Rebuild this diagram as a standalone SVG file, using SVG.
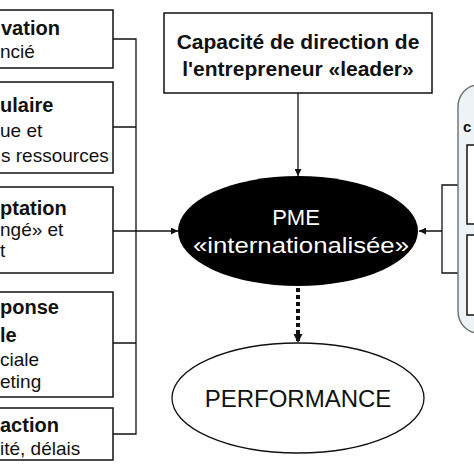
<svg xmlns="http://www.w3.org/2000/svg" width="474" height="474" viewBox="0 0 474 474">
<style>
.box{fill:#fff;stroke:#111;stroke-width:1.5}
.t{font-family:"Liberation Sans",Arial,sans-serif;font-size:19px;fill:#111}
.b{font-weight:bold;font-size:20px}
.c{stroke:#111;stroke-width:1.3;fill:none}
.top{font-size:21px;text-anchor:middle}
.w{font-size:22px;fill:#fff;text-anchor:middle}
.perf{font-size:24px;text-anchor:middle}
</style>
<defs>
<marker id="ah" viewBox="0 0 10 10" refX="10" refY="5" markerWidth="7" markerHeight="7" markerUnits="userSpaceOnUse" orient="auto"><path d="M0,0 L10,5 L0,10 z" fill="#111"/></marker>
<marker id="ah2" viewBox="0 0 10 10" refX="10" refY="5" markerWidth="9" markerHeight="9" markerUnits="userSpaceOnUse" orient="auto"><path d="M0,0 L10,5 L0,10 z" fill="#111"/></marker>
</defs>
<rect width="474" height="474" fill="#fff"/>
<g id="connectors">
<path class="c" d="M113,39 H136 V434 H113 M113,127 H136 M113,343 H136"/>
<path class="c" d="M113,231 H178" marker-end="url(#ah)"/>
<path class="c" d="M298,93 V176" marker-end="url(#ah)"/>
<path d="M298,288 V343" stroke="#111" stroke-width="4" stroke-dasharray="4 3" fill="none" marker-end="url(#ah2)"/>
<path class="c" d="M467,185 H442 V273 H467 M442,231 H419" marker-end="url(#ah)"/>
</g>
<g id="right-group">
<rect x="458" y="85" width="40" height="248" rx="22" fill="#eef4f6" stroke="#777" stroke-width="1.5"/>
<text class="t b" x="463" y="132" style="font-size:15px">c</text>
<rect class="box" x="467" y="145" width="20" height="79"/>
<rect class="box" x="467" y="235" width="20" height="80"/>
</g>
<g id="box1">
<rect class="box" x="-10" y="10" width="123" height="58"/>
<text class="t b" x="1" y="35">vation</text>
<text class="t" x="0" y="58">ncié</text>
</g>
<g id="box2">
<rect class="box" x="-10" y="82" width="123" height="91"/>
<text class="t b" x="0" y="112">ulaire</text>
<text class="t" x="0" y="137">ue et</text>
<text class="t" x="1" y="162">s ressources</text>
</g>
<g id="box3">
<rect class="box" x="-10" y="187" width="123" height="86"/>
<text class="t b" x="0" y="215">ptation</text>
<text class="t" x="0" y="236">ngé» et</text>
<text class="t" x="0" y="257">t</text>
</g>
<g id="box4">
<rect class="box" x="-10" y="292" width="123" height="105"/>
<text class="t b" x="0" y="314">ponse</text>
<text class="t b" x="0" y="342">le</text>
<text class="t" x="0" y="366">ciale</text>
<text class="t" x="0" y="388">eting</text>
</g>
<g id="box5">
<rect class="box" x="-10" y="408" width="123" height="52"/>
<text class="t b" x="0" y="432">action</text>
<text class="t" x="0" y="455">ité, délais</text>
</g>
<g id="leader">
<rect class="box" x="164" y="13" width="268" height="80"/>
<text class="t b top" x="298" y="49">Capacité de direction de</text>
<text class="t b top" x="298" y="76">l'entrepreneur «leader»</text>
</g>
<g id="pme">
<ellipse cx="298" cy="231" rx="120" ry="55" fill="#000"/>
<text class="t w" x="296" y="225">PME</text>
<text class="t w" x="301" y="253" textLength="216" lengthAdjust="spacingAndGlyphs">«internationalisée»</text>
</g>
<g id="performance">
<ellipse cx="298" cy="398" rx="126" ry="55" fill="#fff" stroke="#111" stroke-width="1.3"/>
<text class="t perf" x="298" y="407">PERFORMANCE</text>
</g>
</svg>
